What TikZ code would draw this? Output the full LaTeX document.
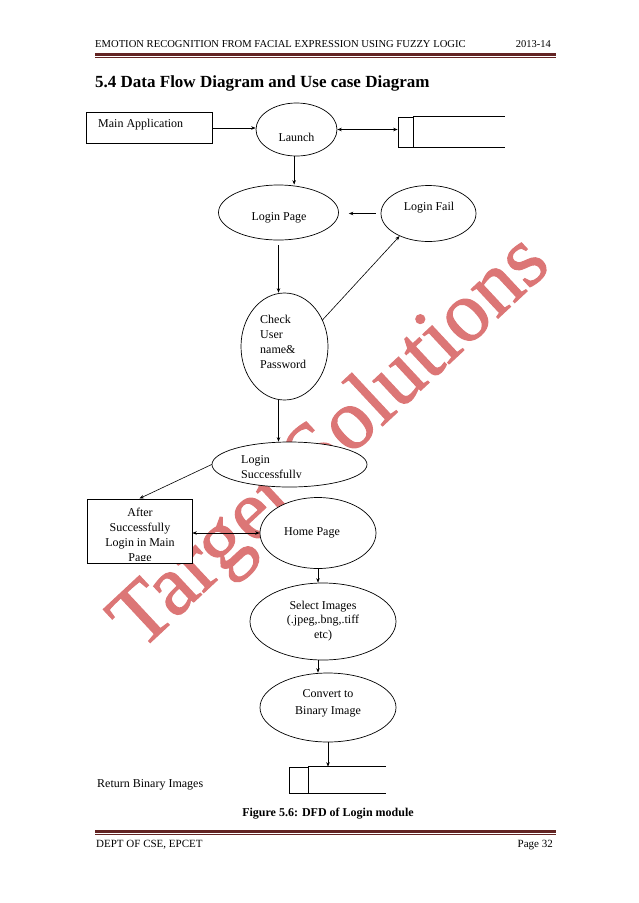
\documentclass[tikz,border=0pt]{standalone}
\usepackage{fontspec}
\setmainfont{Liberation Serif}
\newfontfamily\wmfont[FakeBold=1.2]{Liberation Serif}
\usetikzlibrary{shapes.geometric,arrows.meta,calc}
\definecolor{hdr}{RGB}{99,36,35}
\definecolor{wmc}{RGB}{220,118,118}
\begin{document}
\begin{tikzpicture}[x=1pt,y=-1pt,
  ell/.style={draw, ellipse, fill=white, inner sep=0pt, line width=0.7pt},
  boxn/.style={draw, rectangle, fill=white, inner sep=0pt, line width=0.7pt},
  txt/.style={inner sep=0pt, font=\fontsize{12}{15}\selectfont},
  arr/.style={-{Stealth[length=4.5pt,width=3.5pt]}, line width=0.6pt},
  darr/.style={{Stealth[length=4.5pt,width=3.5pt]}-{Stealth[length=4.5pt,width=3.5pt]}, line width=0.6pt},
  rule/.style={draw=hdr},
]
\fill[white] (0,0) rectangle (638,903);
\useasboundingbox (0,0) rectangle (638,903);

% watermark
\node[rotate=43, inner sep=0pt, text=wmc, font=\wmfont\fontsize{86}{86}\selectfont] (wm) at (332.5,444.5) {Target Solutions};

% header
\node[anchor=base west, inner sep=0pt, font=\fontsize{10.6}{12}\selectfont] (htitle) at (95,47.7) {EMOTION RECOGNITION FROM FACIAL EXPRESSION USING FUZZY LOGIC};
\node[anchor=base east, inner sep=0pt, font=\fontsize{10.5}{12}\selectfont] (hyear) at (551,47.7) {2013-14};
\draw[rule, line width=2.6pt] (95,54.7) -- (556,54.7);
\draw[rule, line width=0.8pt] (95,57.8) -- (556,57.8);

% title
\node[anchor=base west, inner sep=0pt, font=\fontsize{17}{20}\selectfont\bfseries] (title) at (95,87) {5.4 Data Flow Diagram and Use case Diagram};

% nodes
\node[boxn, minimum width=126pt, minimum height=30.5pt] (main) at (149.5,128) {};
\node[txt, anchor=west] (maint) at (98,125) {Main Application};

\node[ell, minimum width=81pt, minimum height=53pt] (launch) at (296.5,129.5) {};
\node[txt] (launcht) at (296.5,137) {Launch};

\node[boxn, minimum width=15pt, minimum height=30pt] (store1) at (405.5,132) {};
\draw[line width=0.7pt] (store1.north east) -- ++(92,0);
\draw[line width=0.7pt] (store1.south east) -- ++(92,0);

\node[ell, minimum width=120pt, minimum height=55pt] (loginpage) at (278.5,212.5) {};
\node[txt] (loginpaget) at (279,218) {Login Page};

\node[ell, minimum width=95pt, minimum height=56pt] (loginfail) at (428.5,213.5) {};
\node[txt] (loginfailt) at (429,207.5) {Login Fail};

\node[ell, minimum width=87pt, minimum height=107pt] (check) at (284.5,346.5) {};
\node[txt, anchor=west, align=left] (checkt) at (260,342) {Check\\User\\name\&\\Password};

\node[ell, minimum width=155pt, minimum height=45pt] (loginsucc) at (289.5,464.5) {};
\begin{scope}
  \clip (200,440) rectangle (380,477.5);
  \node[txt, anchor=west, align=left] (loginsucct) at (241,468) {Login\\Successfully};
\end{scope}

\node[boxn, minimum width=105pt, minimum height=64pt] (after) at (139.5,531) {};
\begin{scope}
  \clip (88,500) rectangle (191,560.5);
  \node[txt, align=center] (aftert) at (140,536.2) {After\\Successfully\\Login in Main\\Page};
\end{scope}

\node[ell, minimum width=116pt, minimum height=71pt] (home) at (318,533) {};
\node[txt] (homet) at (312,532.5) {Home Page};

\node[ell, minimum width=146pt, minimum height=77pt] (select) at (323,621.5) {};
\node[txt, align=center, font=\fontsize{12}{14.5}\selectfont] (selectt) at (323,621) {Select Images\\(.jpeg,.bng,.tiff\\etc)};

\node[ell, minimum width=136pt, minimum height=69pt] (convert) at (328,707.5) {};
\node[txt, align=center, font=\fontsize{12}{16.5}\selectfont] (convertt) at (328,703.5) {Convert to\\Binary Image};

\node[boxn, minimum width=19pt, minimum height=26pt] (store2) at (298.5,780) {};
\draw[line width=0.7pt] (store2.north east) -- ++(78,0);
\draw[line width=0.7pt] (store2.south east) -- ++(78,0);

\node[txt, anchor=west] (ret) at (97,785) {Return Binary Images};

\node[inner sep=0pt, font=\fontsize{12}{14}\selectfont\bfseries] (caption) at (328,814) {Figure 5.6: DFD of Login module};

% connectors
\draw[arr] (main.east) -- (main.east -| launch.west);
\draw[darr] (launch.east) -- (launch.east -| store1.west);
\draw[arr] (launch.-95) -- (launch.-95 |- loginpage.north);
\draw[arr, shorten <=5pt, shorten >=10pt] (loginfail.west) -- (loginfail.west -| loginpage.east);
\draw[arr, shorten <=5pt] (loginpage.south) -- (loginpage.south |- check.north);
\draw[arr] (check.35) -- (loginfail.218);
\draw[arr] (check.south -| loginpage.south) -- (loginpage.south |- loginsucc.north);
\draw[arr] (loginsucc.west) -- (147,498.5 -| after.north);
\draw[darr] (after.east |- home.west) -- (home.west);
\draw[arr] (home.south) -- (home.south |- select.north);
\draw[arr] (select.south -| home.south) -- (home.south |- convert.north);
\draw[arr] (convert.south) -- (convert.south |- store2.north);

% footer
\draw[rule, line width=2.6pt] (95,831.5) -- (556,831.5);
\draw[rule, line width=0.8pt] (95,834.8) -- (556,834.8);
\node[anchor=base west, inner sep=0pt, font=\fontsize{11}{13}\selectfont] (fleft) at (96,847) {DEPT OF CSE, EPCET};
\node[anchor=base east, inner sep=0pt, font=\fontsize{11}{13}\selectfont] (fright) at (553,847) {Page 32};
\end{tikzpicture}
\end{document}
